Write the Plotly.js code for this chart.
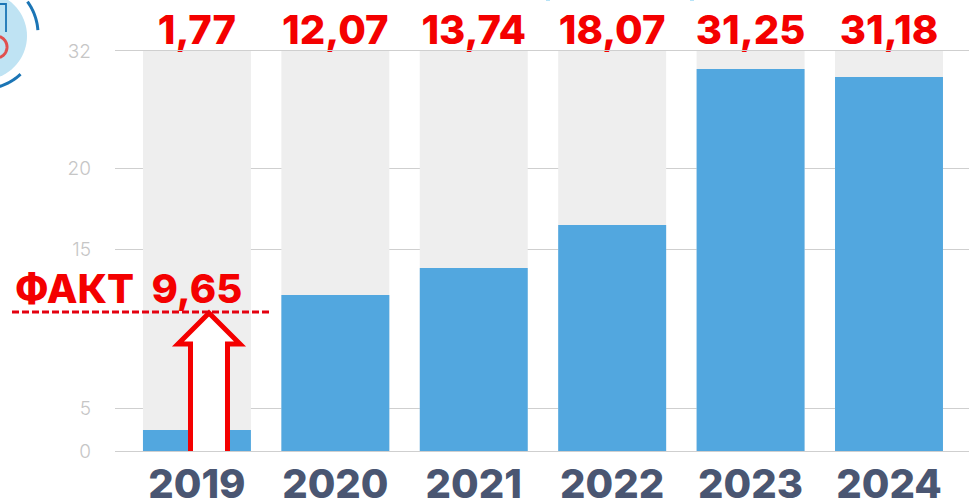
<!DOCTYPE html>
<html><head><meta charset="utf-8">
<script src="https://cdn.plot.ly/plotly-3.0.1.min.js"></script>
<style>html,body{margin:0;padding:0;background:#fff;overflow:hidden}#c{width:969px;height:501px}</style>
</head><body><div id="c"></div>
<script>
// Data
var years = ['2019','2020','2021','2022','2023','2024'];
var valueLabels = ['1,77','12,07','13,74','18,07','31,25','31,18'];
// Bar heights as read on the picture's (linear) vertical scale
var barHeights = [1.68,12.48,14.64,18.08,30.56,29.92];
var backdrop = [32,32,32,32,32,32];
var labelLevel = [31.76,31.76,31.76,31.76,31.76,31.76];
// The printed axis labels are not evenly spaced: position on the scale / printed text
var tickPositions = [0,3.44,16.16,22.64,32];
var tickLabels = ['0','5','15','20','32'];
var factLabel = 'ФАКТ\u00a0\u00a09,65';

var W=969,H=501,L=115,T=51,PW=854,PH=400;
function fx(p){return (p-L)/PW;}
function fy(p){return 1-(p-T)/PH;}
function path(points,close){
  return points.map(function(p,i){return (i?'L':'M')+fx(p[0]).toFixed(5)+','+fy(p[1]).toFixed(5);}).join(' ')+(close?' Z':'');
}
function arc(cx,cy,r,a0,a1){
  var pts=[];for(var i=0;i<=40;i++){var a=(a0+(a1-a0)*i/40)*Math.PI/180;pts.push([cx+r*Math.cos(a),cy+r*Math.sin(a)]);}
  return pts;
}
function deco(p,line,fill){var s={type:'path',xref:'paper',yref:'paper',path:p,line:line};if(fill)s.fillcolor=fill;return s;}
var shapes=[
 // icon at the top-left corner
 deco(path(arc(-17,36,44,-90,90).concat(arc(-17,36,44,90,270)),true),{width:0},'#bfe3f3'),
 deco(path(arc(-17,34,55,-36,-4)),{color:'#1b75b5',width:3}),
 deco(path(arc(-17,34,55,47,73)),{color:'#1b75b5',width:3}),
 deco(path([[0,4],[6,4],[6,32]]),{color:'#1b75b5',width:1.8}),
 deco(path(arc(-4,47,11,-70,70)),{color:'#e0504f',width:3}),
 // arrow
 deco(path([[190.5,451],[190.5,344],[178,344],[209,313],[240,344],[227.5,344],[227.5,451]]),{color:'#f40000',width:5},'#ffffff'),
 // dashed fact line
 {type:'line',xref:'paper',yref:'paper',x0:fx(12),x1:fx(272),y0:fy(312),y1:fy(312),line:{color:'#e4000f',width:3,dash:'7px,3px'}},
 // cropped remains of a title on the top edge
 {type:'line',xref:'paper',yref:'paper',x0:fx(546),x1:fx(550),y0:fy(0.3),y1:fy(0.3),line:{color:'#a5dcf6',width:1}},
 {type:'line',xref:'paper',yref:'paper',x0:fx(690),x1:fx(694),y0:fy(0.3),y1:fy(0.3),line:{color:'#a5dcf6',width:1}}
];
var traces=[
 {type:'bar',x:years,y:backdrop,marker:{color:'#eeeeee',line:{width:0}},width:0.78,hoverinfo:'skip'},
 {type:'bar',x:years,y:barHeights,marker:{color:'#52a7df',line:{width:0}},width:0.78,hoverinfo:'skip'},
 {type:'scatter',mode:'text',x:years,y:labelLevel,text:valueLabels,textposition:'top center',cliponaxis:false,hoverinfo:'skip',
  textfont:{family:'Inter, sans-serif',size:40,color:'#f40000',weight:800}}
];
var layout={
 width:W,height:H,margin:{l:L,r:0,t:T,b:50,pad:0},paper_bgcolor:'#fff',plot_bgcolor:'#fff',
 barmode:'overlay',showlegend:false,
 xaxis:{type:'category',range:[-0.592,5.578],showgrid:false,zeroline:false,showline:true,mirror:true,linecolor:'#cfcfcf',linewidth:1,ticks:'',fixedrange:true,
  tickfont:{family:'Inter, sans-serif',size:40,color:'#4a5672',weight:800},ticklabelstandoff:-2},
 yaxis:{range:[0,32],tickmode:'array',tickvals:tickPositions,ticktext:tickLabels,showgrid:true,gridcolor:'#cfcfcf',gridwidth:1,zeroline:false,showline:false,
  ticks:'',fixedrange:true,tickfont:{family:'Inter, sans-serif',size:19,color:'#c6c6c6',weight:300},ticklabelstandoff:23},
 shapes:shapes,
 annotations:[{xref:'paper',yref:'paper',x:fx(13),y:fy(288),xanchor:'left',yanchor:'middle',text:factLabel,showarrow:false,
  font:{family:'Inter, sans-serif',size:40,color:'#f40000',weight:800}}]
};
Plotly.newPlot('c',traces,layout,{displayModeBar:false,staticPlot:true});
</script></body></html>
